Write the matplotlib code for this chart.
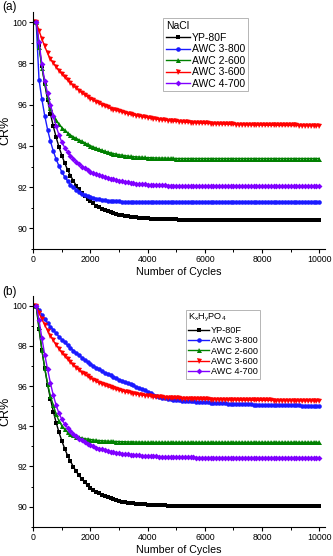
import matplotlib
matplotlib.use("Agg")
import matplotlib.pyplot as plt
from matplotlib.ticker import MultipleLocator

plt.rcParams['font.family'] = ['Liberation Sans', 'DejaVu Sans']
plt.rcParams['mathtext.default'] = 'regular'

cycles = list(range(100, 10001, 100))

series_names = ["YP-80F", "AWC 3-800", "AWC 2-600", "AWC 3-600", "AWC 4-700"]

# ---- Panel (a): NaCl ----
nacl_yp80f = [
    100.00, 98.87, 97.88, 97.00, 96.23, 95.55, 94.95, 94.41, 93.94, 93.53,
    93.16, 92.84, 92.56, 92.31, 92.08, 91.89, 91.72, 91.56, 91.43, 91.31,
    91.21, 91.11, 91.03, 90.96, 90.90, 90.84, 90.79, 90.75, 90.71, 90.67,
    90.65, 90.62, 90.60, 90.57, 90.56, 90.54, 90.53, 90.51, 90.50, 90.49,
    90.48, 90.48, 90.47, 90.46, 90.46, 90.45, 90.45, 90.45, 90.44, 90.44,
    90.43, 90.43, 90.43, 90.43, 90.43, 90.42, 90.42, 90.42, 90.42, 90.42,
    90.42, 90.42, 90.42, 90.42, 90.42, 90.42, 90.42, 90.42, 90.42, 90.42,
    90.42, 90.42, 90.42, 90.42, 90.42, 90.42, 90.42, 90.42, 90.42, 90.42,
    90.42, 90.42, 90.42, 90.42, 90.42, 90.42, 90.42, 90.42, 90.42, 90.42,
    90.42, 90.42, 90.42, 90.42, 90.42, 90.42, 90.42, 90.42, 90.42, 90.42]
nacl_awc3800 = [
    100.00, 97.21, 96.26, 95.46, 94.79, 94.22, 93.75, 93.35, 93.02, 92.73,
    92.50, 92.30, 92.13, 91.99, 91.88, 91.78, 91.69, 91.63, 91.57, 91.52,
    91.48, 91.44, 91.41, 91.39, 91.37, 91.35, 91.34, 91.32, 91.31, 91.31,
    91.30, 91.29, 91.29, 91.28, 91.28, 91.27, 91.27, 91.26, 91.26, 91.26,
    91.26, 91.26, 91.26, 91.26, 91.26, 91.26, 91.26, 91.26, 91.26, 91.26,
    91.26, 91.26, 91.26, 91.26, 91.26, 91.26, 91.26, 91.26, 91.26, 91.26,
    91.26, 91.26, 91.26, 91.26, 91.26, 91.26, 91.26, 91.26, 91.26, 91.26,
    91.26, 91.26, 91.26, 91.26, 91.26, 91.26, 91.26, 91.26, 91.26, 91.26,
    91.26, 91.26, 91.26, 91.26, 91.26, 91.26, 91.26, 91.26, 91.26, 91.26,
    91.26, 91.26, 91.26, 91.26, 91.26, 91.26, 91.26, 91.26, 91.26, 91.26]
nacl_awc2600 = [
    100.00, 98.79, 97.79, 97.04, 96.39, 95.84, 95.49, 95.24, 95.04, 94.89,
    94.75, 94.63, 94.53, 94.44, 94.36, 94.29, 94.22, 94.15, 94.08, 94.01,
    93.95, 93.89, 93.84, 93.79, 93.74, 93.70, 93.66, 93.63, 93.60, 93.57,
    93.55, 93.53, 93.51, 93.49, 93.48, 93.47, 93.46, 93.45, 93.44, 93.43,
    93.43, 93.42, 93.42, 93.41, 93.41, 93.41, 93.40, 93.40, 93.40, 93.39,
    93.39, 93.39, 93.39, 93.39, 93.39, 93.39, 93.39, 93.39, 93.39, 93.39,
    93.39, 93.39, 93.39, 93.39, 93.39, 93.39, 93.39, 93.39, 93.39, 93.39,
    93.39, 93.39, 93.39, 93.39, 93.39, 93.39, 93.39, 93.39, 93.39, 93.39,
    93.39, 93.39, 93.39, 93.39, 93.39, 93.39, 93.39, 93.39, 93.39, 93.39,
    93.39, 93.39, 93.39, 93.39, 93.39, 93.39, 93.39, 93.39, 93.39, 93.39]
nacl_awc3600 = [
    100.00, 99.59, 99.19, 98.82, 98.49, 98.21, 98.01, 97.82, 97.64, 97.48,
    97.32, 97.18, 97.04, 96.91, 96.79, 96.68, 96.57, 96.47, 96.38, 96.29,
    96.21, 96.13, 96.06, 95.99, 95.93, 95.87, 95.81, 95.76, 95.72, 95.68,
    95.64, 95.60, 95.56, 95.53, 95.50, 95.47, 95.44, 95.41, 95.39, 95.37,
    95.34, 95.32, 95.30, 95.28, 95.27, 95.25, 95.23, 95.22, 95.20, 95.19,
    95.18, 95.17, 95.15, 95.14, 95.13, 95.12, 95.12, 95.11, 95.10, 95.09,
    95.09, 95.08, 95.07, 95.07, 95.06, 95.06, 95.05, 95.05, 95.04, 95.04,
    95.03, 95.03, 95.03, 95.02, 95.02, 95.02, 95.01, 95.01, 95.01, 95.01,
    95.00, 95.00, 95.00, 95.00, 95.00, 94.99, 94.99, 94.99, 94.99, 94.99,
    94.99, 94.99, 94.98, 94.98, 94.98, 94.98, 94.98, 94.98, 94.98, 94.98]
nacl_awc4700 = [
    100.00, 99.05, 97.95, 97.15, 96.55, 96.00, 95.45, 94.95, 94.52, 94.18,
    93.92, 93.71, 93.52, 93.36, 93.22, 93.10, 93.00, 92.91, 92.82, 92.74,
    92.67, 92.62, 92.57, 92.53, 92.49, 92.45, 92.42, 92.38, 92.35, 92.32,
    92.29, 92.26, 92.23, 92.21, 92.19, 92.17, 92.16, 92.15, 92.14, 92.13,
    92.12, 92.11, 92.10, 92.10, 92.09, 92.09, 92.08, 92.08, 92.08, 92.07,
    92.07, 92.07, 92.06, 92.06, 92.06, 92.05, 92.05, 92.05, 92.05, 92.05,
    92.05, 92.05, 92.05, 92.05, 92.05, 92.05, 92.05, 92.05, 92.05, 92.05,
    92.05, 92.05, 92.05, 92.05, 92.05, 92.05, 92.05, 92.05, 92.05, 92.05,
    92.05, 92.05, 92.05, 92.05, 92.05, 92.05, 92.05, 92.05, 92.05, 92.05,
    92.05, 92.05, 92.05, 92.05, 92.05, 92.05, 92.05, 92.05, 92.05, 92.05]

# ---- Panel (b): KxHyPO4 ----
kp_yp80f = [
    100.00, 98.83, 97.79, 96.88, 96.07, 95.36, 94.73, 94.18, 93.69, 93.26,
    92.88, 92.54, 92.25, 91.99, 91.75, 91.55, 91.37, 91.21, 91.07, 90.95,
    90.84, 90.74, 90.66, 90.58, 90.52, 90.46, 90.41, 90.36, 90.32, 90.29,
    90.25, 90.23, 90.20, 90.18, 90.16, 90.15, 90.13, 90.12, 90.11, 90.10,
    90.09, 90.08, 90.07, 90.07, 90.06, 90.06, 90.05, 90.05, 90.04, 90.04,
    90.03, 90.03, 90.03, 90.03, 90.03, 90.02, 90.02, 90.02, 90.02, 90.02,
    90.02, 90.02, 90.02, 90.02, 90.02, 90.02, 90.02, 90.02, 90.02, 90.02,
    90.02, 90.02, 90.02, 90.02, 90.02, 90.02, 90.02, 90.02, 90.02, 90.02,
    90.02, 90.02, 90.02, 90.02, 90.02, 90.02, 90.02, 90.02, 90.02, 90.02,
    90.02, 90.02, 90.02, 90.02, 90.02, 90.02, 90.02, 90.02, 90.02, 90.02]
kp_awc3800 = [
    100.00, 99.78, 99.55, 99.32, 99.14, 98.96, 98.79, 98.62, 98.46, 98.31,
    98.17, 98.03, 97.90, 97.77, 97.65, 97.53, 97.42, 97.31, 97.20, 97.10,
    97.01, 96.92, 96.83, 96.75, 96.67, 96.60, 96.53, 96.46, 96.39, 96.32,
    96.26, 96.20, 96.14, 96.08, 96.03, 95.96, 95.90, 95.84, 95.78, 95.71,
    95.64, 95.58, 95.52, 95.47, 95.43, 95.40, 95.37, 95.35, 95.33, 95.31,
    95.29, 95.28, 95.27, 95.26, 95.25, 95.24, 95.23, 95.22, 95.21, 95.20,
    95.19, 95.18, 95.17, 95.16, 95.15, 95.14, 95.14, 95.13, 95.12, 95.12,
    95.11, 95.11, 95.10, 95.10, 95.09, 95.09, 95.08, 95.08, 95.08, 95.07,
    95.07, 95.07, 95.06, 95.06, 95.06, 95.05, 95.05, 95.05, 95.05, 95.04,
    95.04, 95.04, 95.04, 95.03, 95.03, 95.03, 95.03, 95.02, 95.02, 95.02]
kp_awc2600 = [
    100.00, 98.95, 97.80, 96.90, 96.10, 95.50, 95.05, 94.60, 94.25, 94.02,
    93.84, 93.70, 93.62, 93.55, 93.49, 93.45, 93.41, 93.38, 93.36, 93.34,
    93.32, 93.30, 93.29, 93.28, 93.27, 93.26, 93.25, 93.25, 93.24, 93.24,
    93.23, 93.23, 93.22, 93.22, 93.22, 93.21, 93.21, 93.21, 93.20, 93.20,
    93.20, 93.20, 93.20, 93.20, 93.20, 93.20, 93.20, 93.20, 93.20, 93.20,
    93.20, 93.20, 93.20, 93.20, 93.20, 93.20, 93.20, 93.20, 93.20, 93.20,
    93.20, 93.20, 93.20, 93.20, 93.20, 93.20, 93.20, 93.20, 93.20, 93.20,
    93.20, 93.20, 93.20, 93.20, 93.20, 93.20, 93.20, 93.20, 93.20, 93.20,
    93.20, 93.20, 93.20, 93.20, 93.20, 93.20, 93.20, 93.20, 93.20, 93.20,
    93.20, 93.20, 93.20, 93.20, 93.20, 93.20, 93.20, 93.20, 93.20, 93.20]
kp_awc3600 = [
    100.00, 99.65, 99.33, 99.04, 98.76, 98.51, 98.27, 98.05, 97.85, 97.66,
    97.49, 97.33, 97.18, 97.03, 96.91, 96.79, 96.67, 96.58, 96.48, 96.39,
    96.31, 96.23, 96.16, 96.10, 96.04, 95.98, 95.93, 95.88, 95.84, 95.80,
    95.76, 95.72, 95.69, 95.66, 95.63, 95.60, 95.58, 95.55, 95.53, 95.52,
    95.50, 95.48, 95.46, 95.45, 95.44, 95.43, 95.42, 95.41, 95.40, 95.39,
    95.39, 95.38, 95.37, 95.37, 95.36, 95.36, 95.35, 95.35, 95.34, 95.34,
    95.34, 95.33, 95.33, 95.33, 95.32, 95.32, 95.32, 95.31, 95.31, 95.31,
    95.31, 95.30, 95.30, 95.30, 95.30, 95.30, 95.29, 95.29, 95.29, 95.29,
    95.29, 95.29, 95.29, 95.28, 95.28, 95.28, 95.28, 95.28, 95.28, 95.28,
    95.28, 95.27, 95.27, 95.27, 95.27, 95.27, 95.27, 95.27, 95.27, 95.27]
kp_awc4700 = [
    100.00, 99.29, 98.39, 97.56, 96.84, 96.14, 95.54, 95.04, 94.64, 94.34,
    94.11, 93.92, 93.76, 93.62, 93.50, 93.39, 93.30, 93.21, 93.13, 93.06,
    93.00, 92.94, 92.89, 92.85, 92.81, 92.77, 92.74, 92.71, 92.68, 92.66,
    92.64, 92.62, 92.60, 92.58, 92.57, 92.56, 92.55, 92.54, 92.53, 92.52,
    92.51, 92.50, 92.50, 92.49, 92.49, 92.48, 92.48, 92.47, 92.47, 92.47,
    92.46, 92.46, 92.46, 92.45, 92.45, 92.45, 92.44, 92.44, 92.44, 92.44,
    92.44, 92.44, 92.44, 92.44, 92.44, 92.44, 92.44, 92.44, 92.44, 92.44,
    92.44, 92.44, 92.44, 92.44, 92.44, 92.44, 92.44, 92.44, 92.44, 92.44,
    92.44, 92.44, 92.44, 92.44, 92.44, 92.44, 92.44, 92.44, 92.44, 92.44,
    92.44, 92.44, 92.44, 92.44, 92.44, 92.44, 92.44, 92.44, 92.44, 92.44]

colors = ["#000000", "#1a1aff", "#008000", "#ff0000", "#8000ff"]
markers = ["s", "o", "^", "v", "D"]
msizes = [3.0, 3.3, 3.6, 3.6, 3.0]

fig = plt.figure(figsize=(3.33, 5.56), dpi=100)
ax_a = fig.add_axes([0.100, 0.552, 0.876, 0.4268])
ax_b = fig.add_axes([0.100, 0.0527, 0.876, 0.4155])

panels = [
    (ax_a, [nacl_yp80f, nacl_awc3800, nacl_awc2600, nacl_awc3600, nacl_awc4700],
     "NaCl", 7.5, (0.4457, 0.972)),
    (ax_b, [kp_yp80f, kp_awc3800, kp_awc2600, kp_awc3600, kp_awc4700],
     r"K$_x$H$_y$PO$_4$", 6.6, (0.523, 0.938)),
]

for ax, data, title, lfs, anchor in panels:
    for vals, name, c, m, ms in zip(data, series_names, colors, markers, msizes):
        ax.plot(cycles, vals, color=c, marker=m, markersize=ms, linewidth=1.0,
                markeredgewidth=0, label=name, clip_on=False)
    ax.set_xlim(0, 10200)
    ax.set_ylim(89, 100.5)
    ax.xaxis.set_major_locator(MultipleLocator(2000))
    ax.xaxis.set_minor_locator(MultipleLocator(1000))
    ax.yaxis.set_major_locator(MultipleLocator(2))
    ax.yaxis.set_minor_locator(MultipleLocator(1))
    ax.spines['top'].set_visible(False)
    ax.spines['right'].set_visible(False)
    for s in ('left', 'bottom'):
        ax.spines[s].set_linewidth(0.8)
    ax.tick_params(which='major', direction='out', length=3, width=0.8,
                   labelsize=6.3, pad=1.5)
    ax.tick_params(which='minor', direction='out', length=1.8, width=0.7)
    ax.set_xlabel("Number of Cycles", fontsize=7.7, labelpad=2)
    ax.set_ylabel("CR%", fontsize=9, labelpad=1)
    leg = ax.legend(loc='upper left', bbox_to_anchor=anchor, borderaxespad=0,
                    title=title, title_fontsize=lfs, fontsize=lfs,
                    alignment='left', frameon=True, fancybox=False,
                    edgecolor='#aaaaaa', framealpha=1, borderpad=0.25,
                    handlelength=2.3, handletextpad=0.2, labelspacing=0.15)
    leg.get_frame().set_linewidth(0.6)

fig.text(0.006, 1 - 7 / 556, "(a)", fontsize=8.5, va='center', ha='left')
fig.text(0.006, 1 - 292 / 556, "(b)", fontsize=8.5, va='center', ha='left')

fig.savefig("out.png", dpi=100)
